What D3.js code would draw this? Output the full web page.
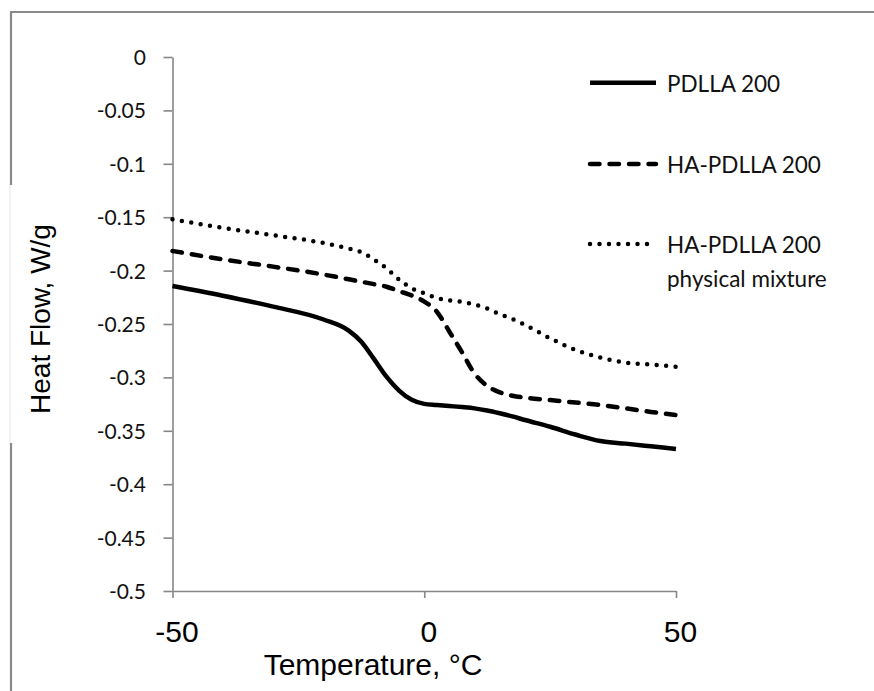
<!DOCTYPE html>
<html>
<head>
<meta charset="utf-8">
<script src="https://cdn.jsdelivr.net/npm/d3@7"></script>
<style>
  html, body { margin: 0; padding: 0; background: #fff; overflow: hidden; width: 874px; height: 691px; }
  svg { display: block; overflow: hidden; }
</style>
</head>
<body>
<svg id="chart" width="874" height="691"></svg>
<script>
// ---- data ----
const temps   = [-50,-40,-30,-20,-15,-12.5,-10,-7.5,-5,-2.5,0,2.5,5,7.5,10,12.5,15,17.5,20,25,30,35,40,45,50];
const pdlla   = [-0.2144,-0.2235,-0.2337,-0.2458,-0.2562,-0.2666,-0.2827,-0.2993,-0.3123,-0.3210,-0.3248,-0.3258,-0.3268,-0.3278,-0.3290,-0.3310,-0.3336,-0.3365,-0.3399,-0.3462,-0.3535,-0.3596,-0.3620,-0.3645,-0.3670];
const haPdlla = [-0.1816,-0.1895,-0.1963,-0.2037,-0.2081,-0.2104,-0.2127,-0.2151,-0.2192,-0.2233,-0.2290,-0.2385,-0.2572,-0.2765,-0.2965,-0.3080,-0.3140,-0.3172,-0.3190,-0.3212,-0.3235,-0.3258,-0.3290,-0.3323,-0.3352];
const mixture = [-0.1520,-0.1600,-0.1668,-0.1742,-0.1794,-0.1828,-0.1896,-0.1978,-0.2084,-0.2165,-0.2212,-0.2255,-0.2280,-0.2292,-0.2318,-0.2355,-0.2408,-0.2453,-0.2507,-0.2634,-0.2741,-0.2815,-0.2862,-0.2880,-0.2900];
const seriesNames = ["PDLLA 200", "HA-PDLLA 200", "HA-PDLLA 200\nphysical mixture"];
const yTicks = [0,-0.05,-0.1,-0.15,-0.2,-0.25,-0.3,-0.35,-0.4,-0.45,-0.5];
const yTickLabels = ["0","-0.05","-0.1","-0.15","-0.2","-0.25","-0.3","-0.35","-0.4","-0.45","-0.5"];
const xTicks = [-50, 0, 50];
const xTickLabels = ["-50", "0", "50"];
const xTitle = "Temperature, \u00B0C";
const yTitle = "Heat Flow, W/g";

// ---- layout ----
const svg = d3.select("#chart");
const x = d3.scaleLinear().domain([-50, 50]).range([172.5, 676]);
const y = d3.scaleLinear().domain([0, -0.5]).range([57, 591]);
const axisColor = "#868686";

// outer chart frame (only top and left edges are visible)
svg.append("line").attr("x1", 11).attr("x2", 874).attr("y1", 12).attr("y2", 12)
  .attr("stroke", "#8a8a8a").attr("stroke-width", 2.2);
svg.append("line").attr("x1", 11).attr("x2", 11).attr("y1", 11).attr("y2", 691)
  .attr("stroke", "#8a8a8a").attr("stroke-width", 2.2);

// white box behind the y-axis title (interrupts the frame)
svg.append("rect").attr("x", 2).attr("y", 185).attr("width", 62).attr("height", 258).attr("fill", "#fff");
svg.append("line").attr("x1", 10).attr("x2", 10).attr("y1", 185).attr("y2", 443)
  .attr("stroke", "#e6e6e6").attr("stroke-width", 1);

// y axis
const yAxis = d3.axisLeft(y).tickValues(yTicks)
  .tickFormat((d, i) => yTickLabels[i]).tickSize(9).tickPadding(17.5).tickSizeOuter(0);
const gy = svg.append("g").attr("transform", `translate(${x(-50)},0)`).call(yAxis);
gy.select(".domain").attr("stroke", axisColor).attr("stroke-width", 1.6);
gy.selectAll(".tick line").attr("stroke", axisColor).attr("stroke-width", 1.6);
gy.selectAll(".tick text").attr("fill", "#111").attr("dy", "0.36em")
  .style("font-family", "Lato, 'Noto Sans', sans-serif").style("font-size", "21px");

// x axis
const xAxis = d3.axisBottom(x).tickValues(xTicks)
  .tickFormat((d, i) => xTickLabels[i]).tickSize(7).tickPadding(22.5).tickSizeOuter(0);
const gx = svg.append("g").attr("transform", `translate(0,${y(-0.5)})`).call(xAxis);
gx.select(".domain").attr("stroke", axisColor).attr("stroke-width", 1.6);
gx.selectAll(".tick line").attr("stroke", axisColor).attr("stroke-width", 1.6);
gx.selectAll(".tick text").attr("fill", "#000").attr("dx", 4)
  .style("font-family", "'Liberation Sans', Arial, sans-serif").style("font-size", "30px");

// axis titles
svg.append("text").attr("x", 373).attr("y", 675).attr("text-anchor", "middle")
  .style("font-family", "'Liberation Sans', Arial, sans-serif").style("font-size", "30px")
  .attr("fill", "#000").text(xTitle);
svg.append("text").attr("transform", "translate(50,319) rotate(-90)").attr("text-anchor", "middle")
  .style("font-family", "'Liberation Sans', Arial, sans-serif").style("font-size", "28px")
  .attr("fill", "#000").text(yTitle);

// series
const styles = [
  { dash: null, cap: "butt" },
  { dash: "9.5,10", cap: "round" },
  { dash: "0,9.5", cap: "round" }
];
const seriesValues = [pdlla, haPdlla, mixture];
const line = d3.line().x(d => x(d[0])).y(d => y(d[1])).curve(d3.curveMonotoneX);

seriesValues.forEach((vals, i) => {
  const pts = temps.map((t, j) => [t, vals[j]]);
  svg.append("path").datum(pts)
    .attr("d", line)
    .attr("fill", "none").attr("stroke", "#000").attr("stroke-width", 4.5)
    .attr("stroke-linecap", styles[i].cap).attr("stroke-linejoin", "round")
    .attr("stroke-dasharray", styles[i].dash);
});

// legend
const legendY = [82.7, 164, 244];
const lg = svg.append("g");
seriesNames.forEach((name, i) => {
  lg.append("line").attr("x1", 590).attr("x2", 656).attr("y1", legendY[i]).attr("y2", legendY[i])
    .attr("stroke", "#000").attr("stroke-width", 4.5)
    .attr("stroke-linecap", styles[i].cap).attr("stroke-dasharray", styles[i].dash);
  const t = lg.append("text").attr("x", 667).attr("y", legendY[i] + 8.8)
    .style("font-family", "Lato, 'Noto Sans', sans-serif").style("font-size", "22.5px").attr("fill", "#111");
  name.split("\n").forEach((part, k) => {
    t.append("tspan").attr("x", 667).attr("dy", k === 0 ? 0 : 34.5).text(part);
  });
});
</script>
</body>
</html>
